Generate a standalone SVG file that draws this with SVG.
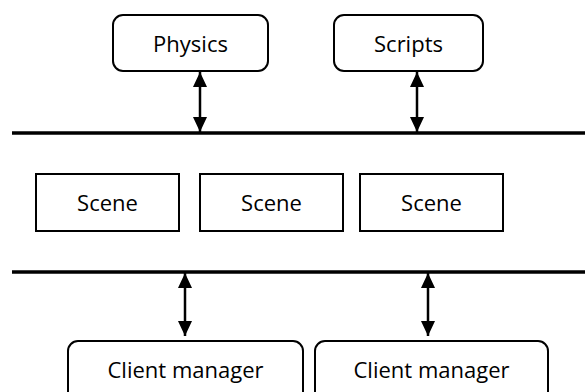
<svg xmlns="http://www.w3.org/2000/svg" width="585" height="392" viewBox="0 0 585 392">
  <defs>
    <style>
      .box { fill: #ffffff; stroke: #000000; stroke-width: 2; }
      .bus { stroke: #000000; stroke-width: 3.5; }
      .conn { stroke: #000000; stroke-width: 2.5; fill: none; }
      .lbl { font-family: "Open Sans", "Liberation Sans", sans-serif; font-size: 22px; fill: #000000; text-anchor: middle; }
    </style>
    <marker id="ah" viewBox="0 0 15 14" refX="15" refY="7" markerWidth="15" markerHeight="14" markerUnits="userSpaceOnUse" orient="auto-start-reverse">
      <polygon points="0,0 15,7 0,14" fill="#000000"/>
    </marker>
  </defs>
  <rect width="585" height="392" fill="#ffffff"/>

  <g id="buses">
    <line class="bus" x1="12" y1="133" x2="585" y2="133"/>
    <line class="bus" x1="12" y1="272" x2="585" y2="272"/>
  </g>

  <g id="connectors">
    <path class="conn" d="M200,72 L200,132" marker-start="url(#ah)" marker-end="url(#ah)"/>
    <path class="conn" d="M417,72 L417,132" marker-start="url(#ah)" marker-end="url(#ah)"/>
    <path class="conn" d="M185,273 L185,336" marker-start="url(#ah)" marker-end="url(#ah)"/>
    <path class="conn" d="M428,273 L428,336" marker-start="url(#ah)" marker-end="url(#ah)"/>
  </g>

  <g id="physics">
    <rect class="box" x="113" y="15" width="155" height="56" rx="10"/>
    <text class="lbl" x="190.5" y="52">Physics</text>
  </g>
  <g id="scripts">
    <rect class="box" x="334" y="15" width="149" height="56" rx="10"/>
    <text class="lbl" x="408.5" y="52">Scripts</text>
  </g>

  <g id="scene1">
    <rect class="box" x="36" y="174" width="143" height="57"/>
    <text class="lbl" x="107.5" y="211">Scene</text>
  </g>
  <g id="scene2">
    <rect class="box" x="200" y="174" width="143" height="57"/>
    <text class="lbl" x="271.5" y="211">Scene</text>
  </g>
  <g id="scene3">
    <rect class="box" x="360" y="174" width="143" height="57"/>
    <text class="lbl" x="431.5" y="211">Scene</text>
  </g>

  <g id="client1">
    <rect class="box" x="68" y="341" width="235" height="60" rx="10"/>
    <text class="lbl" x="185.5" y="378">Client manager</text>
  </g>
  <g id="client2">
    <rect class="box" x="315" y="341" width="233" height="60" rx="10"/>
    <text class="lbl" x="431.5" y="378">Client manager</text>
  </g>
</svg>
